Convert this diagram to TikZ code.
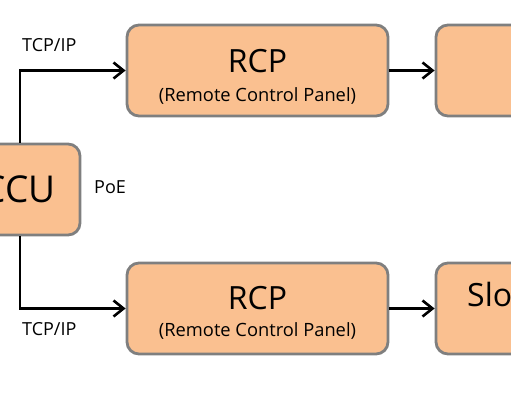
\documentclass[tikz,border=0pt]{standalone}
\usepackage{fontspec}
\setmainfont{Open Sans}
\usetikzlibrary{arrows.meta}
\definecolor{peche}{HTML}{FAC090}
\definecolor{bord}{HTML}{7F7F7F}
\begin{document}
\begin{tikzpicture}[x=1pt,y=-1pt]
\tikzset{
	boite/.style={draw=bord, fill=peche, line width=2.8pt, rounded corners=12pt,
		minimum width=261pt, minimum height=91pt, inner sep=0pt},
	fleche/.style={line width=2.6pt, -{Straight Barb[length=10pt,width=16pt]}},
	titre/.style={anchor=base, inner sep=0pt, font=\fontsize{32}{34}\selectfont},
	sous/.style={anchor=base, inner sep=0pt, font=\fontsize{18.3}{20}\selectfont},
	petit/.style={anchor=base west, inner sep=0pt, font=\fontsize{18}{20}\selectfont},
}
 \useasboundingbox (0,0) rectangle (511,400);
 \clip (0,0) rectangle (511,400);

  % les boîtes
  \node[boite, minimum width=126pt] (ccu) at (17,189.5) {};
  \node[boite] (rcpA) at (257.5,70.5) {};
  \node[boite] (rcpB) at (257.5,308.5) {};
  \node[boite] (camA) at (566.5,70.5) {};
  \node[boite] (camB) at (566.5,308.5) {};

  % les liaisons
  \draw[fleche] ([xshift=3pt]ccu.north) |- (rcpA.west);
  \draw[fleche] ([xshift=3pt]ccu.south) |- (rcpB.west);
  \draw[fleche] (rcpA.east) -- (camA.west);
  \draw[fleche] (rcpB.east) -- (camB.west);

  % du texte
  \node[titre, font=\fontsize{37}{39}\selectfont] (ccuT) at ([xshift=2pt,yshift=-13pt]ccu.center) {CCU};
  \node[titre] (rcpAT) at ([yshift=-1.5pt]rcpA.center) {RCP};
  \node[sous] (rcpAS) at ([yshift=-31pt]rcpA.center) {(Remote Control Panel)};
  \node[titre] (rcpBT) at ([yshift=-0.5pt]rcpB.center) {RCP};
  \node[sous] (rcpBS) at ([yshift=-28pt]rcpB.center) {(Remote Control Panel)};
  \node[titre, anchor=base west] (camBT) at (467,306) {Slo};

  \node[petit] (tcpA) at (22,51) {TCP/IP};
  \node[petit] (tcpB) at (22,335) {TCP/IP};
  \node[petit] (poe) at (94,193) {PoE};
\end{tikzpicture}
\end{document}
